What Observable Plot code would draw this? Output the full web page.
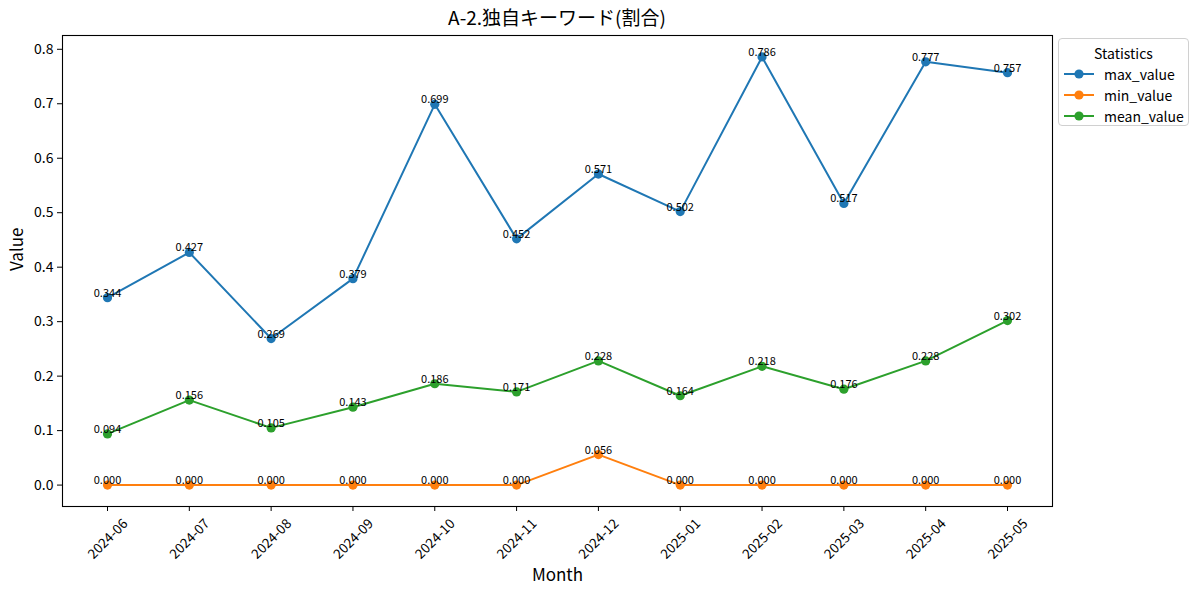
<!DOCTYPE html>
<html>
<head>
<meta charset="utf-8">
<script src="https://cdn.jsdelivr.net/npm/d3@7"></script>
<script src="https://cdn.jsdelivr.net/npm/@observablehq/plot@0.6"></script>
<style>
  body { margin: 0; background: #fff; font-family: "Noto Sans CJK JP", "Noto Sans", sans-serif; }
  #wrap { position: relative; width: 1200px; height: 595px; }
  #title { position: absolute; left: 62px; width: 990px; top: 5px; text-align: center; font-size: 19px; line-height: 24px; color: #000; }
  #chart { position: absolute; left: 0; top: 30px; }
  #legend { position: absolute; left: 1058px; top: 38px; width: 131px; height: 88px; border: 1px solid #d0d0d0; border-radius: 4px; background: #fff; font-size: 14px; box-sizing: border-box; }
  #legend .lt { text-align: center; margin-top: 4px; line-height: 20px; }
  #legend .row { display: flex; align-items: center; height: 21px; padding-left: 5px; }
  #legend .row svg { margin-right: 10px; }
</style>
</head>
<body>
<div id="wrap">
  <div id="title">A-2.独自キーワード(割合)</div>
  <div id="chart"></div>
  <div id="legend"></div>
</div>
<script>
const months = ["2024-06","2024-07","2024-08","2024-09","2024-10","2024-11","2024-12","2025-01","2025-02","2025-03","2025-04","2025-05"];
const maxValue  = [0.344, 0.427, 0.269, 0.379, 0.699, 0.452, 0.571, 0.502, 0.786, 0.517, 0.777, 0.757];
const minValue  = [0.000, 0.000, 0.000, 0.000, 0.000, 0.000, 0.056, 0.000, 0.000, 0.000, 0.000, 0.000];
const meanValue = [0.094, 0.156, 0.105, 0.143, 0.186, 0.171, 0.228, 0.164, 0.218, 0.176, 0.228, 0.302];
const seriesNames = ["max_value", "min_value", "mean_value"];
const seriesColors = ["#1f77b4", "#ff7f0e", "#2ca02c"];
const yTicks = [0.0, 0.1, 0.2, 0.3, 0.4, 0.5, 0.6, 0.7, 0.8];

const seriesValues = [maxValue, minValue, meanValue];
const data = [];
seriesNames.forEach((s, si) => {
  months.forEach((m, i) => data.push({series: s, i, month: m, value: seriesValues[si][i]}));
});

const lo = Math.min(...data.map(d => d.value)), hi = Math.max(...data.map(d => d.value));
const pad = (hi - lo) * 0.05;
const xPad = (months.length - 1) * 0.05;

const fmt = d3.format(".3f");
const marks = [];
seriesNames.forEach((s, si) => {
  const sd = data.filter(d => d.series === s);
  marks.push(Plot.line(sd, {x: "i", y: "value", stroke: seriesColors[si], strokeWidth: 2}));
  marks.push(Plot.dot(sd, {x: "i", y: "value", fill: seriesColors[si], r: 4.6, stroke: "none"}));
});
seriesNames.forEach((s, si) => {
  const sd = data.filter(d => d.series === s);
  marks.push(Plot.text(sd, {x: "i", y: "value", text: d => fmt(d.value), lineAnchor: "bottom", dy: -1, fontSize: 11, fill: "#000"}));
});

const chart = Plot.plot({
  width: 1200,
  height: 565,
  marginLeft: 62,
  marginRight: 148,
  marginTop: 5,
  marginBottom: 89,
  style: {fontFamily: '"Noto Sans CJK JP", "Noto Sans", sans-serif', fontSize: "14px", color: "#000", background: "#fff", overflow: "visible"},
  x: {type: "linear", domain: [-xPad, months.length - 1 + xPad]},
  y: {domain: [lo - pad, hi + pad]},
  marks: [
    ...marks,
    Plot.frame({stroke: "#000", strokeWidth: 1.1}),
    Plot.axisX({ticks: d3.range(months.length), tickSize: 5, text: null, label: null, stroke: "#000"}),
    Plot.axisX({ticks: d3.range(months.length), tickFormat: i => months[i], tickRotate: -45, tickSize: 0, tickPadding: 8, dx: 18, dy: 7, label: null, fontSize: 13.5}),
    Plot.axisY({ticks: yTicks, tickFormat: d3.format(".1f"), tickSize: 5, tickPadding: 4, label: null, fontSize: 14, stroke: "#000"}),
    Plot.text(["Month"], {frameAnchor: "bottom", dy: 69, text: d => d, fontSize: 17, lineAnchor: "middle"}),
    Plot.text(["Value"], {frameAnchor: "left", dx: -45, rotate: -90, text: d => d, fontSize: 17, lineAnchor: "middle"})
  ]
});
document.getElementById("chart").appendChild(chart);

const legend = document.getElementById("legend");
const lt = document.createElement("div");
lt.className = "lt";
lt.textContent = "Statistics";
legend.appendChild(lt);
seriesNames.forEach((s, si) => {
  const row = document.createElement("div");
  row.className = "row";
  row.innerHTML = `<svg width="30" height="12"><line x1="0" y1="6" x2="30" y2="6" stroke="${seriesColors[si]}" stroke-width="2"/><circle cx="15" cy="6" r="4.6" fill="${seriesColors[si]}"/></svg><span>${s}</span>`;
  legend.appendChild(row);
});
</script>
</body>
</html>
